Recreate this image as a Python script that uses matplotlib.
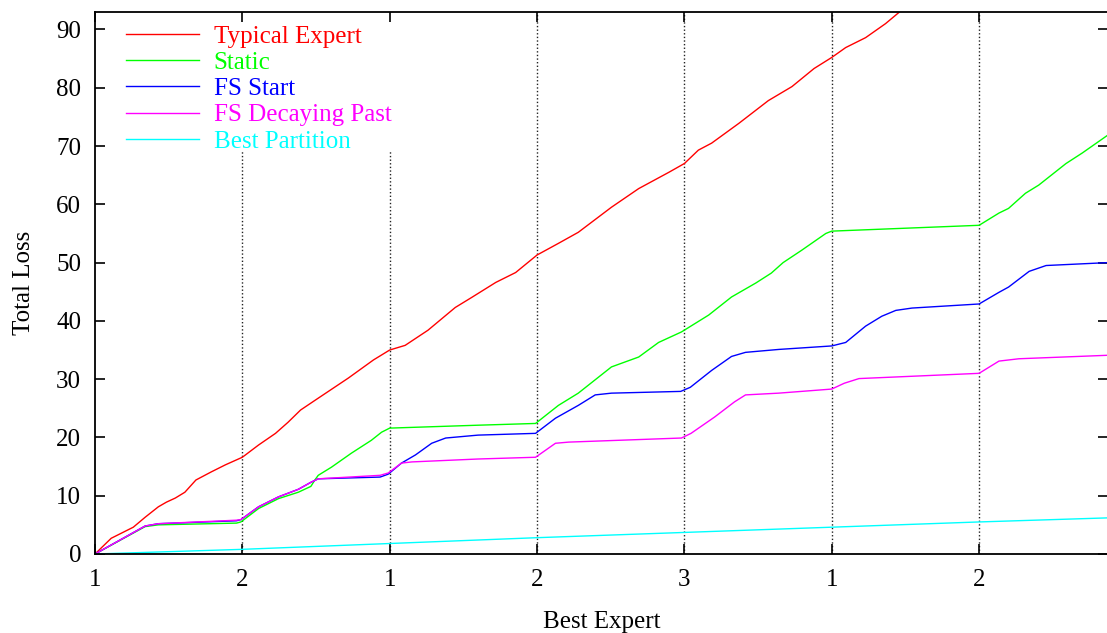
import matplotlib
matplotlib.use('Agg')
import matplotlib.pyplot as plt

plt.rcParams['font.family'] = ['Liberation Serif', 'DejaVu Serif']

# x positions where the best expert changes, and the expert labels
switch_x = [0, 200, 400, 600, 800, 1000, 1200]
switch_labels = ['1', '2', '1', '2', '3', '1', '2']

typical_x = [0, 22, 52, 68, 86, 97, 109, 122, 137, 158, 177, 200, 222, 245, 262, 279, 299, 344, 378, 400,
             421, 452, 489, 511, 544, 571, 600, 629, 656, 701, 738, 779, 800, 819, 837, 874, 914, 946, 976,
             1000, 1019, 1046, 1073, 1091, 1110]
typical_y = [0, 2.7, 4.6, 6.3, 8.1, 8.9, 9.6, 10.6, 12.7, 14.1, 15.3, 16.6, 18.7, 20.7, 22.6, 24.7, 26.4, 30.2,
             33.3, 35.0, 35.8, 38.4, 42.3, 44.0, 46.6, 48.3, 51.3, 53.3, 55.2, 59.5, 62.7, 65.5, 67.0, 69.3,
             70.5, 73.9, 77.8, 80.2, 83.3, 85.2, 86.9, 88.6, 91.0, 92.9, 95.5]

static_x = [0, 68, 86, 192, 198, 222, 249, 276, 293, 299, 303, 321, 348, 375, 389, 400, 520, 598, 629, 656,
            701, 738, 765, 796, 833, 864, 897, 918, 934, 959, 992, 1000, 1200, 1227, 1240, 1263, 1281, 1318,
            1340, 1375]
static_y = [0, 4.7, 5.0, 5.3, 5.5, 7.8, 9.5, 10.6, 11.6, 12.8, 13.5, 14.9, 17.3, 19.5, 20.9, 21.6, 22.1, 22.4,
            25.5, 27.6, 32.1, 33.8, 36.3, 38.1, 41.0, 44.1, 46.5, 48.2, 50.0, 52.1, 55.0, 55.4, 56.4, 58.5,
            59.3, 61.9, 63.3, 67.0, 68.8, 71.9]

fs_start_x = [0, 68, 86, 192, 198, 222, 249, 276, 293, 303, 387, 398, 416, 435, 457, 476, 520, 598, 625, 656,
              679, 701, 795, 808, 837, 864, 883, 928, 1000, 1019, 1046, 1068, 1087, 1109, 1200, 1227, 1240,
              1268, 1291, 1375]
fs_start_y = [0, 4.8, 5.2, 5.7, 5.9, 8.1, 9.8, 11.1, 12.3, 12.9, 13.2, 13.7, 15.6, 17.0, 19.0, 19.9, 20.4, 20.7,
              23.3, 25.5, 27.3, 27.6, 27.9, 28.6, 31.5, 33.9, 34.6, 35.1, 35.7, 36.3, 39.1, 40.8, 41.8, 42.2,
              42.9, 44.9, 45.8, 48.5, 49.5, 50.0]

fs_decay_x = [0, 68, 86, 192, 198, 222, 249, 276, 293, 303, 387, 398, 416, 430, 520, 598, 625, 643, 796, 809,
              841, 868, 883, 928, 1000, 1017, 1037, 1200, 1227, 1254, 1375]
fs_decay_y = [0, 4.8, 5.2, 5.8, 5.9, 8.1, 9.8, 11.1, 12.3, 12.9, 13.5, 13.9, 15.6, 15.8, 16.3, 16.6, 19.0, 19.2,
              19.9, 20.7, 23.5, 26.1, 27.3, 27.6, 28.3, 29.3, 30.1, 31.0, 33.1, 33.5, 34.1]

best_x = [0, 200, 400, 600, 800, 1000, 1200, 1375]
best_y = [0, 0.8, 1.8, 2.8, 3.7, 4.6, 5.5, 6.2]

fig = plt.figure(figsize=(11.07, 6.33), dpi=100)
ax = fig.add_axes([95 / 1107, 79 / 633, 1013 / 1107, 542 / 633])

# dotted markers at each switch of the best expert
for i, sx in enumerate(switch_x[1:]):
    top = 69.3 if i < 2 else 93
    ax.plot([sx, sx], [0, top], color='#222222', lw=1.0, ls=(0, (1, 1.6)), zorder=1)

ax.plot(typical_x, typical_y, color='#ff0000', lw=1.0, label='Typical Expert')
ax.plot(static_x, static_y, color='#00ff00', lw=1.0, label='Static')
ax.plot(fs_start_x, fs_start_y, color='#0000ff', lw=1.0, label='FS Start')
ax.plot(fs_decay_x, fs_decay_y, color='#ff00ff', lw=1.0, label='FS Decaying Past')
ax.plot(best_x, best_y, color='#00ffff', lw=1.0, label='Best Partition')

ax.set_xlim(0, 1375)
ax.set_ylim(0, 93)
ax.set_xticks(switch_x)
ax.set_xticklabels(switch_labels)
ax.set_yticks(range(0, 91, 10))
ax.tick_params(direction='in', length=7, width=1.2, labelsize=18, top=True, right=True)
ax.tick_params(axis='x', pad=11)
ax.tick_params(axis='y', pad=10)
for s in ax.spines.values():
    s.set_linewidth(1.3)

ax.set_xlabel('Best Expert', fontsize=18, labelpad=14)
ax.set_ylabel('Total Loss', fontsize=18, labelpad=15)

ax.legend(loc='upper left', bbox_to_anchor=(126 / 1107, 1 - 25 / 633), bbox_transform=fig.transFigure,
          frameon=False, fontsize=18, labelcolor='linecolor', handlelength=2.9, handletextpad=0.6,
          labelspacing=0.15, borderpad=0, borderaxespad=0)

fig.savefig('out.png', dpi=100)
